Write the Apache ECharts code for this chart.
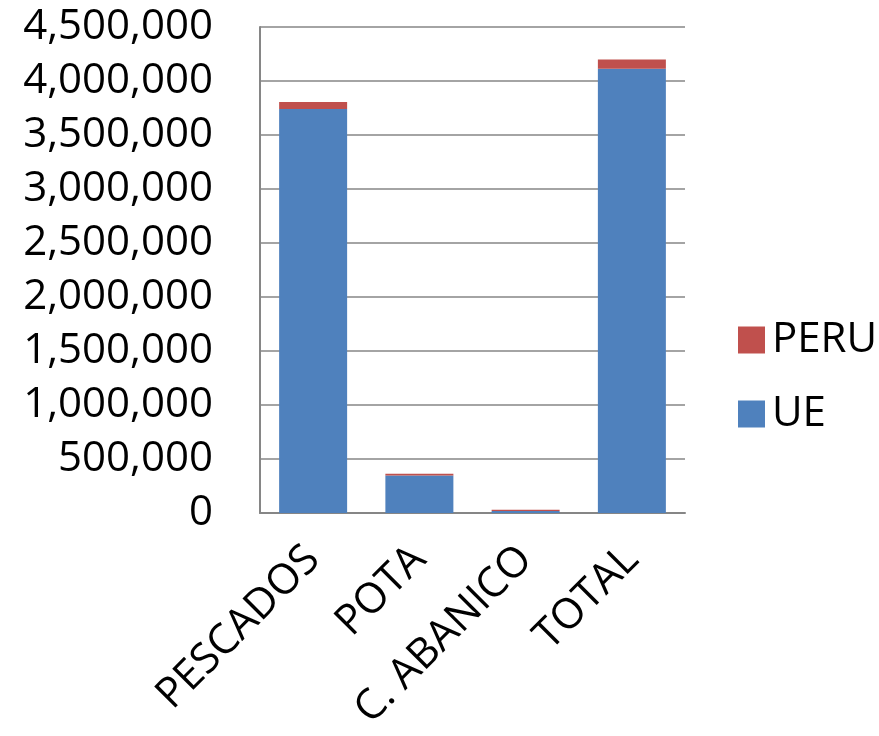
<!DOCTYPE html>
<html>
<head>
<meta charset="utf-8">
<script src="https://cdn.jsdelivr.net/npm/echarts@6/dist/echarts.min.js"></script>
<style>
html,body{margin:0;padding:0;background:#fff;}
#main{width:879px;height:736px;}
</style>
</head>
<body>
<div id="main"></div>
<script>
const categories = ['PESCADOS', 'POTA', 'C. ABANICO', 'TOTAL'];
const ueValues = [3741000, 348000, 18000, 4113000];
const peruValues = [65000, 15000, 12000, 87000];
const seriesNames = ['UE', 'PERU'];

const FONT = 'Open Sans';
const chart = echarts.init(document.getElementById('main'));
chart.setOption({
  animation: false,
  backgroundColor: '#ffffff',
  textStyle: { fontFamily: FONT },
  grid: { left: 260, right: 194, top: 27, bottom: 223, containLabel: false },
  legend: {
    orient: 'vertical',
    left: 733,
    top: 314,
    itemWidth: 27,
    itemHeight: 27,
    itemGap: 32,
    data: ['PERU', 'UE'],
    textStyle: { fontFamily: FONT, fontSize: 42, color: '#000', padding: [0, 0, 0, 2] },
    icon: 'rect'
  },
  xAxis: {
    type: 'category',
    data: categories,
    axisLine: { show: true, lineStyle: { color: '#868686', width: 2 } },
    axisTick: { show: false },
    axisLabel: { rotate: 45, fontSize: 42, color: '#000', fontFamily: FONT, margin: 40, interval: 0 }
  },
  yAxis: {
    type: 'value',
    min: 0,
    max: 4500000,
    interval: 500000,
    axisLine: { show: true, lineStyle: { color: '#868686', width: 2 } },
    axisTick: { show: false },
    splitLine: { show: true, lineStyle: { color: '#868686', width: 1.5 } },
    axisLabel: {
      fontSize: 42, color: '#000', fontFamily: FONT, margin: 47,
      formatter: v => v.toLocaleString('en-US')
    }
  },
  series: [
    {
      name: seriesNames[0], type: 'bar', stack: 's', data: ueValues,
      barWidth: '64%',
      itemStyle: { color: '#4F81BD' }
    },
    {
      name: seriesNames[1], type: 'bar', stack: 's', data: peruValues,
      barWidth: '64%',
      itemStyle: { color: '#C0504D' }
    }
  ]
});
</script>
</body>
</html>
